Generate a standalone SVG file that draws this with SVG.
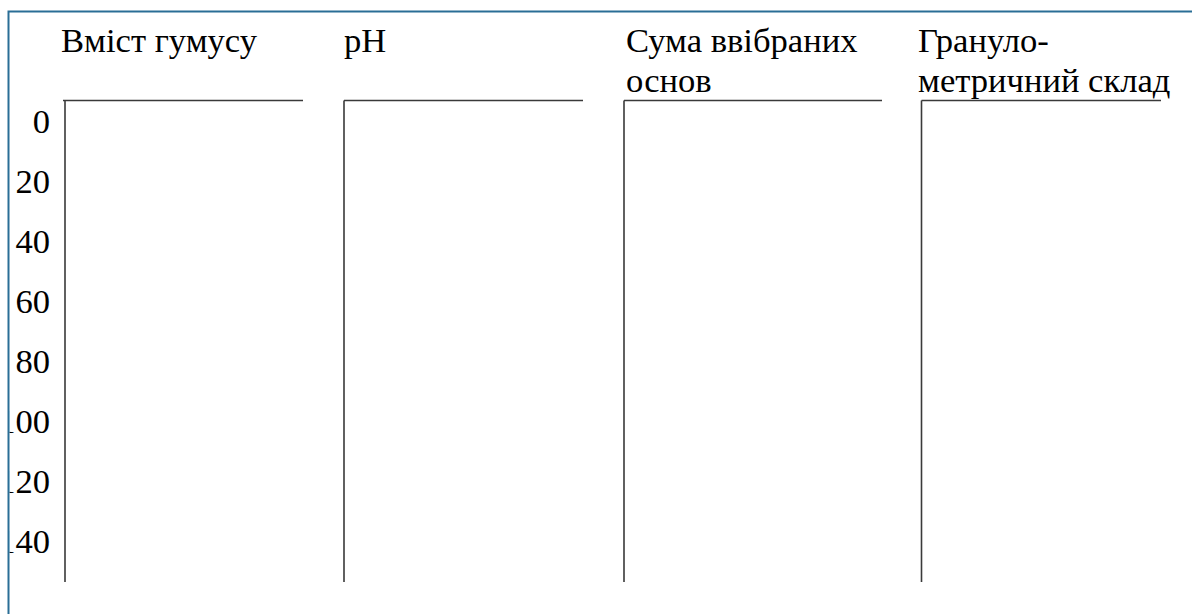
<svg xmlns="http://www.w3.org/2000/svg" width="1192" height="614" viewBox="0 0 1192 614">
  <defs>
    <style>
      .lbl { font-size: 34.6px; fill: #000; }
      .num { font-size: 34.6px; fill: #000; text-anchor: end; }
      .axis { fill: none; stroke: #3a3a3a; stroke-width: 1.6; }
      .frame { fill: none; stroke: #2a6e96; stroke-width: 2; }
    </style>
    <clipPath id="inside">
      <rect x="9.5" y="12.5" width="1190" height="610"/>
    </clipPath>
  </defs>

  <rect width="1192" height="614" fill="#ffffff"/>

  <g font-family="Liberation Serif, Tinos, DejaVu Serif, serif">
    <!-- depth scale -->
    <g id="depth-scale" clip-path="url(#inside)">
      <text class="num" x="50" y="133">0</text>
      <text class="num" x="50" y="193">20</text>
      <text class="num" x="50" y="253">40</text>
      <text class="num" x="50" y="313">60</text>
      <text class="num" x="50" y="373">80</text>
      <text class="num" x="50" y="433">100</text>
      <text class="num" x="50" y="493">120</text>
      <text class="num" x="50" y="553">140</text>
    </g>

    <!-- column: humus content -->
    <g id="col-humus">
      <text class="lbl" x="61" y="52">Вміст гумусу</text>
    </g>

    <!-- column: pH -->
    <g id="col-ph">
      <text class="lbl" x="344" y="52">pH</text>
    </g>

    <!-- column: sum of absorbed bases -->
    <g id="col-bases">
      <text class="lbl" x="626" y="52">Сума ввібраних</text>
      <text class="lbl" x="626" y="92">основ</text>
    </g>

    <!-- column: particle size -->
    <g id="col-texture">
      <text class="lbl" x="918" y="52">Грануло-</text>
      <text class="lbl" x="918" y="92">метричний склад</text>
    </g>
  </g>

  <!-- axis lines of each column -->
  <g id="axes">
    <path class="axis" d="M63,100.5 H303 M65,100.5 V582"/>
    <path class="axis" d="M344,100.5 H583 M344,100.5 V582"/>
    <path class="axis" d="M624,100.5 H882 M624,100.5 V582"/>
    <path class="axis" d="M921.5,100.5 H1161 M921.5,100.5 V582"/>
  </g>

  <!-- outer frame (continues past the right and bottom edges) -->
  <rect class="frame" x="8.5" y="11.5" width="1200" height="620"/>
</svg>
